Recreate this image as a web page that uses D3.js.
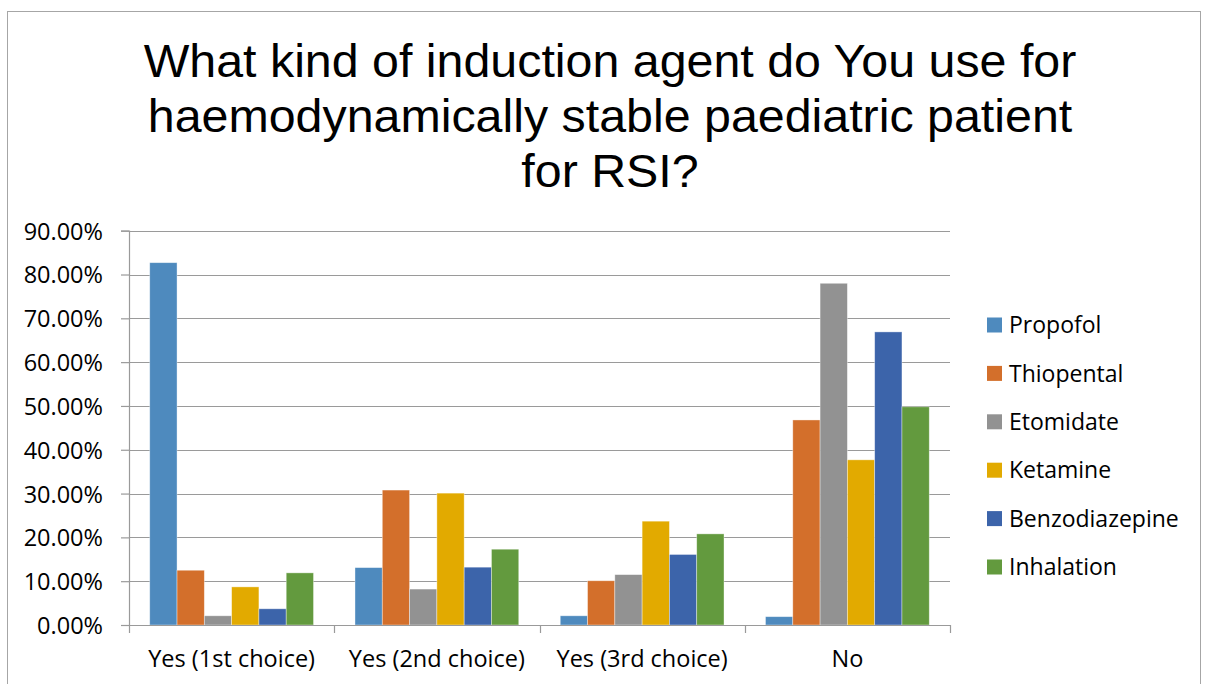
<!DOCTYPE html>
<html>
<head>
<meta charset="utf-8">
<script src="https://cdn.jsdelivr.net/npm/d3@7"></script>
<style>
  body { margin: 0; background: #fff; }
  svg text { font-family: 'Open Sans', sans-serif; fill: #000; }
</style>
</head>
<body>
<script>
var categories = ['Yes (1st choice)', 'Yes (2nd choice)', 'Yes (3rd choice)', 'No'];
var seriesNames = ['Propofol', 'Thiopental', 'Etomidate', 'Ketamine', 'Benzodiazepine', 'Inhalation'];
var propofol = [0.827, 0.131, 0.021, 0.019];
var thiopental = [0.125, 0.308, 0.101, 0.468];
var etomidate = [0.021, 0.082, 0.115, 0.780];
var ketamine = [0.087, 0.301, 0.237, 0.377];
var benzodiazepine = [0.037, 0.132, 0.161, 0.669];
var inhalation = [0.119, 0.173, 0.208, 0.498];
var yTicks = [0, 0.1, 0.2, 0.3, 0.4, 0.5, 0.6, 0.7, 0.8, 0.9];
var titleLines = ['What kind of induction agent do You use for', 'haemodynamically stable paediatric patient', 'for RSI?'];

var COLORS = ['#4e8abe', '#d36f2b', '#929292', '#e2aa00', '#3c64aa', '#639a3e'];
var values = [propofol, thiopental, etomidate, ketamine, benzodiazepine, inhalation];

var W = 1206, H = 684;
var LEFT = 129, RIGHT = 950, TOP = 230.7, BOTTOM = 625;

var svg = d3.select('body').append('svg')
  .attr('width', W)
  .attr('height', H);

// chart frame
svg.append('rect')
  .attr('x', 7.5).attr('y', 11.5)
  .attr('width', 1193).attr('height', 700)
  .attr('fill', 'none')
  .attr('stroke', '#a6a6a6')
  .attr('stroke-width', 1);

// title (slightly stretched horizontally like the source)
svg.append('g')
  .attr('transform', 'translate(610,0) scale(1.04,1)')
  .selectAll('text')
  .data(titleLines)
  .enter().append('text')
    .attr('x', 0)
    .attr('y', function (d, i) { return 77 + i * 55; })
    .attr('text-anchor', 'middle')
    .style('font-family', "'Liberation Sans', Arial, sans-serif")
    .style('font-size', '46.5px')
    .text(function (d) { return d; });

var x0 = d3.scaleBand()
  .domain(categories)
  .range([LEFT, RIGHT])
  .padding(0);

var x1 = d3.scaleBand()
  .domain(seriesNames)
  .range([0, x0.bandwidth()])
  .paddingInner(0)
  .paddingOuter(0.76);

var y = d3.scaleLinear()
  .domain([0, 0.9])
  .range([BOTTOM, TOP]);

// gridlines
svg.append('g').selectAll('line')
  .data(yTicks)
  .enter().append('line')
    .attr('x1', LEFT).attr('x2', RIGHT)
    .attr('y1', function (d) { return Math.round(y(d)) + 0.5; })
    .attr('y2', function (d) { return Math.round(y(d)) + 0.5; })
    .attr('stroke', '#9a9a9a')
    .attr('stroke-width', 1.2);

// y axis
var yAxis = d3.axisLeft(y)
  .tickValues(yTicks)
  .tickFormat(d3.format('.2%'))
  .tickSize(8)
  .tickPadding(18);
var gy = svg.append('g')
  .attr('transform', 'translate(' + LEFT + ',0)')
  .call(yAxis);
gy.selectAll('line').attr('stroke', '#9a9a9a').attr('stroke-width', 1.2);
gy.select('.domain').attr('stroke', '#9a9a9a').attr('stroke-width', 1.2);
gy.selectAll('text')
  .style('font-size', '23.5px')
  .attr('dy', '0.36em');

// bars
var groups = svg.append('g').selectAll('g')
  .data(categories)
  .enter().append('g')
    .attr('transform', function (d) { return 'translate(' + x0(d) + ',0)'; });

groups.selectAll('rect')
  .data(function (d, ci) {
    return seriesNames.map(function (s, si) {
      return { name: s, value: values[si][ci], color: COLORS[si] };
    });
  })
  .enter().append('rect')
    .attr('x', function (d) { return x1(d.name); })
    .attr('y', function (d) { return y(d.value); })
    .attr('width', x1.bandwidth())
    .attr('height', function (d) { return BOTTOM - y(d.value); })
    .attr('fill', function (d) { return d.color; })
    .attr('stroke', '#ffffff')
    .attr('stroke-opacity', 0.5)
    .attr('stroke-width', 0.75);

// x axis
var xTicks = categories.map(function (c) { return x0(c); }).concat([RIGHT]);
var gx = svg.append('g');
gx.append('line')
  .attr('x1', LEFT).attr('x2', RIGHT)
  .attr('y1', BOTTOM + 0.5).attr('y2', BOTTOM + 0.5)
  .attr('stroke', '#9a9a9a').attr('stroke-width', 1.2);
gx.selectAll('line.tick')
  .data(xTicks)
  .enter().append('line')
    .attr('class', 'tick')
    .attr('x1', function (d) { return Math.round(d) + 0.5; })
    .attr('x2', function (d) { return Math.round(d) + 0.5; })
    .attr('y1', BOTTOM).attr('y2', BOTTOM + 8)
    .attr('stroke', '#9a9a9a').attr('stroke-width', 1.2);
gx.selectAll('text')
  .data(categories)
  .enter().append('text')
    .attr('x', function (d) { return x0(d) + x0.bandwidth() / 2; })
    .attr('y', 667)
    .attr('text-anchor', 'middle')
    .style('font-size', '23.5px')
    .text(function (d) { return d; });

// legend
var legend = svg.append('g').selectAll('g')
  .data(seriesNames)
  .enter().append('g')
    .attr('transform', function (d, i) { return 'translate(987,' + (325 + i * 48.4) + ')'; });
legend.append('rect')
  .attr('x', 0).attr('y', -7.5)
  .attr('width', 15).attr('height', 15)
  .attr('fill', function (d, i) { return COLORS[i]; });
legend.append('text')
  .attr('x', 22)
  .attr('y', 0)
  .attr('dy', '0.36em')
  .style('font-size', '23px')
  .text(function (d) { return d; });
</script>
</body>
</html>
